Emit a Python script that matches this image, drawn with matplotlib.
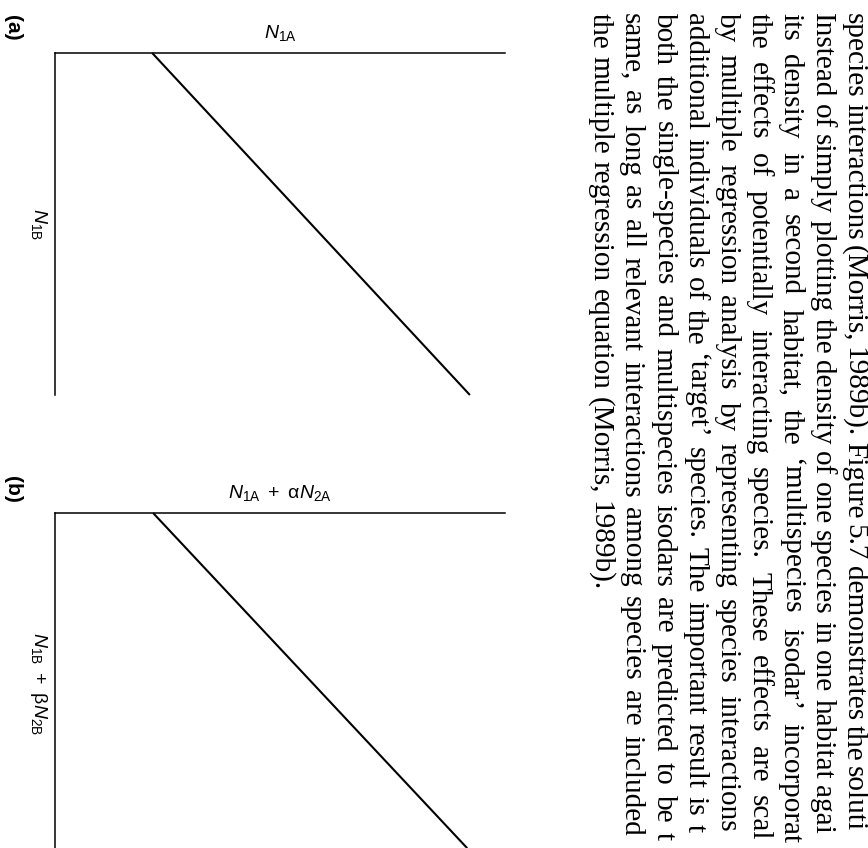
import matplotlib
matplotlib.use('Agg')
import matplotlib.pyplot as plt

plt.rcParams['font.family'] = ['Liberation Sans', 'DejaVu Sans']
plt.rcParams['mathtext.fontset'] = 'custom'
plt.rcParams['mathtext.rm'] = 'Liberation Sans'
plt.rcParams['mathtext.it'] = 'Liberation Sans:italic'

# isodar lines (arbitrary density units, axes run 0-10)
isodar_a_n1a = [2.16, 9.22]
isodar_a_n1b = [0.0, 10.0]
isodar_b_n1a = [2.18, 9.16]
isodar_b_n1b = [0.0, 9.8]

panel_tags = ['(a)', '(b)']
top_labels = [r'$N_{\mathrm{1A}}$',
              r'$N_{\mathrm{1A}}\ +\ \mathrm{\alpha}N_{\mathrm{2A}}$']
left_labels = [r'$N_{\mathrm{1B}}$',
               r'$N_{\mathrm{1B}}\ +\ \mathrm{\beta}N_{\mathrm{2B}}$']

body_lines = [
    'species interactions (Morris, 1989b). Figure 5.7 demonstrates the solution.',
    'Instead of simply plotting the density of one species in one habitat against',
    'its density in a second habitat, the \u2018multispecies isodar\u2019 incorporates',
    'the effects of potentially interacting species. These effects are scaled',
    'by multiple regression analysis by representing species interactions as',
    'additional individuals of the \u2018target\u2019 species. The important result is that',
    'both the single-species and multispecies isodars are predicted to be the',
    'same, as long as all relevant interactions among species are included in',
    'the multiple regression equation (Morris, 1989b).',
]

W, H = 868, 848
fig = plt.figure(figsize=(W / 100, H / 100), dpi=100)


def px_axes(left, top, width, height):
    return fig.add_axes([left / W, 1 - (top + height) / H, width / W, height / H])


axes = [px_axes(55, 53, 450, 342), px_axes(55, 513, 450, 342)]
lines = [(isodar_a_n1a, isodar_a_n1b), (isodar_b_n1a, isodar_b_n1b)]

for ax, (xs, ys), tl, ll in zip(axes, lines, top_labels, left_labels):
    ax.plot(xs, ys, color='black', lw=1.5, solid_capstyle='butt', clip_on=False)
    ax.set_xlim(0, 10)
    ax.set_ylim(10, 0)
    for s in ['right', 'bottom']:
        ax.spines[s].set_visible(False)
    for s in ['top', 'left']:
        ax.spines[s].set_linewidth(1.1)
    ax.set_xticks([])
    ax.set_yticks([])
    ax.patch.set_alpha(0)
    ax.annotate(tl, xy=(0.5, 1), xycoords='axes fraction', xytext=(0, 11),
                textcoords='offset points', ha='center', va='baseline',
                fontsize=14)
    ax.annotate(ll, xy=(0, 0.5), xycoords='axes fraction', xytext=(-15, 0),
                textcoords='offset points', ha='center', va='baseline',
                rotation=-90, rotation_mode='anchor', fontsize=14)

for tag, y in zip(panel_tags, [28, 489]):
    fig.text(12 / W, 1 - y / H, tag, rotation=-90, ha='center', va='center',
             fontsize=15, fontweight='bold')

# body text of the page, rotated with it and justified
renderer = fig.canvas.get_renderer()
serif = 'Liberation Serif'


def text_width(s, size):
    t = fig.text(0, 0, s, fontsize=size, family=serif)
    w = t.get_window_extent(renderer).width
    t.remove()
    return w


size = 10 * 577 / text_width(body_lines[-1], 10)
space = text_width('x x', size) - text_width('xx', size)
start, end = 13, 868
x0, step = 847, 31.75
limit = H - 2

for i, line in enumerate(body_lines):
    words = line.split(' ')
    widths = [text_width(w, size) for w in words]
    if i < len(body_lines) - 1:
        gap = (end - start - sum(widths)) / (len(words) - 1)
    else:
        gap = space
    y = start
    for w, wd in zip(words, widths):
        if y >= limit:
            break
        if y + wd > limit:
            # the page edge cuts this word: keep the part that shows
            while w and y + text_width(w, size) > limit:
                w = w[:-1]
            if not w:
                break
        fig.text((x0 - i * step) / W, 1 - y / H, w, fontsize=size,
                 family=serif, rotation=-90, rotation_mode='anchor',
                 ha='left', va='baseline')
        y += wd + gap

fig.savefig('out.png', dpi=100)
